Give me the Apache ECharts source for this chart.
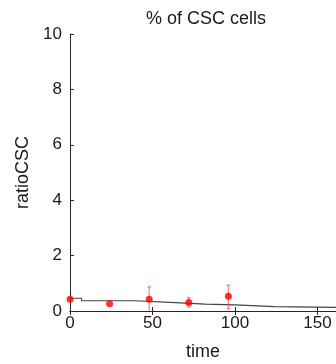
<!DOCTYPE html>
<html><head><meta charset="utf-8">
<script src="https://cdn.jsdelivr.net/npm/echarts@6/dist/echarts.min.js"></script>
<style>html,body{margin:0;padding:0;background:#fff}#c{width:336px;height:364px}</style>
</head><body><div id="c"></div>
<script>
var xTicks = [0, 50, 100, 150, 200];
var yTicks = [0, 2, 4, 6, 8, 10];
var pointTimes = [0, 24, 48, 72, 96];
var pointValues = [0.42, 0.26, 0.42, 0.31, 0.53];
var errLow = [0.42, 0.26, -0.05, 0.14, 0.08];
var errHigh = [0.42, 0.26, 0.87, 0.48, 0.93];
var stepTimes = [0, 7, 39, 64, 82, 100, 124, 200];
var stepValues = [0.46, 0.37, 0.30, 0.25, 0.22, 0.16, 0.10, 0.10];

var font = 'Liberation Sans, Arial, Helvetica, sans-serif';
var chart = echarts.init(document.getElementById('c'));
var stepData = stepTimes.map(function(t, i){ return [t, stepValues[i]]; });
var ptData = pointTimes.map(function(t, i){ return [t, pointValues[i]]; });
var errData = pointTimes.map(function(t, i){ return [t, errLow[i], errHigh[i]]; });

chart.setOption({
  animation: false,
  title: {text: '% of CSC cells', left: 201, top: 5, textAlign: 'center',
    textStyle: {fontFamily: font, fontSize: 18, fontWeight: 'normal', color: '#1a1a1a'}},
  graphic: [{type: 'text', x: 203, y: 352, style: {text: 'time', fontFamily: font, fontSize: 18,
    fill: '#1a1a1a', textAlign: 'center', textVerticalAlign: 'middle'}}],
  grid: {left: 70, top: 34, bottom: 53, right: -64, containLabel: false, outerBoundsMode: 'none'},
  xAxis: [{
    type: 'value', min: xTicks[0], max: xTicks[xTicks.length-1], interval: 50,
    position: 'bottom',
    axisLine: {show: true, onZero: false, lineStyle: {color: '#262626', width: 1}},
    axisTick: {show: true, inside: true, length: 4, lineStyle: {color: '#262626'}},
    axisLabel: {fontFamily: font, fontSize: 17, color: '#1a1a1a', margin: 4},
    splitLine: {show: false}
  }, {
    type: 'value', min: xTicks[0], max: xTicks[xTicks.length-1], interval: 50,
    position: 'top',
    axisLine: {show: true, lineStyle: {color: '#262626', width: 1}},
    axisTick: {show: true, inside: true, length: 4, lineStyle: {color: '#262626'}},
    axisLabel: {show: false},
    splitLine: {show: false}
  }],
  yAxis: [{
    type: 'value', min: yTicks[0], max: yTicks[yTicks.length-1], interval: 2,
    name: 'ratioCSC', nameLocation: 'middle', nameGap: 33, nameRotate: 90,
    nameTextStyle: {fontFamily: font, fontSize: 18, color: '#1a1a1a'},
    axisLine: {show: true, onZero: false, lineStyle: {color: '#262626', width: 1}},
    axisTick: {show: true, inside: true, length: 4, lineStyle: {color: '#262626'}},
    axisLabel: {fontFamily: font, fontSize: 17, color: '#1a1a1a', margin: 8},
    splitLine: {show: false}
  }],
  series: [{
    type: 'line', data: stepData, step: 'end', showSymbol: false, clip: true,
    lineStyle: {color: '#444', width: 1.2}, z: 2
  }, {
    type: 'custom', data: errData, clip: true, z: 3,
    renderItem: function(params, api){
      var x = api.value(0);
      var lo = api.coord([x, api.value(1)]);
      var hi = api.coord([x, api.value(2)]);
      if (Math.abs(lo[1]-hi[1]) < 1) return null;
      var st = {stroke: 'rgba(255,60,60,0.6)', lineWidth: 1.3};
      return {type: 'group', children: [
        {type: 'line', shape: {x1: lo[0], y1: lo[1], x2: hi[0], y2: hi[1]}, style: st},
        {type: 'line', shape: {x1: hi[0]-2, y1: hi[1], x2: hi[0]+2, y2: hi[1]}, style: st},
        {type: 'line', shape: {x1: lo[0]-2, y1: lo[1], x2: lo[0]+2, y2: lo[1]}, style: st}
      ]};
    }
  }, {
    type: 'scatter', data: ptData, symbol: 'circle', symbolSize: 7,
    itemStyle: {color: '#ff0000'}, z: 4, clip: false
  }]
});
</script></body></html>
